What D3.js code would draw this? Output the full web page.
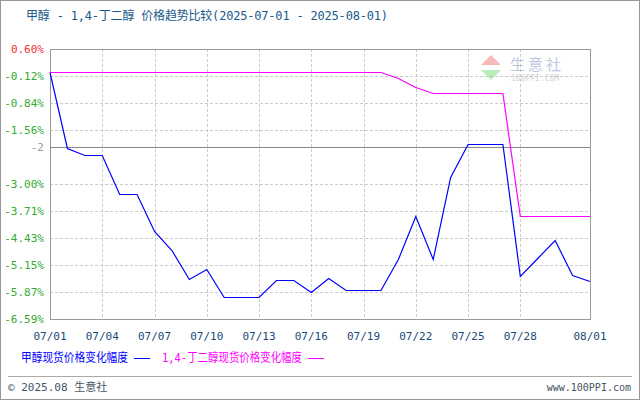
<!DOCTYPE html>
<html><head><meta charset="utf-8">
<script src="https://cdn.jsdelivr.net/npm/d3@7"></script>
<style>body{margin:0;background:#fff}svg{display:block}</style>
</head><body><svg id="c" width="640" height="400"></svg>
<script>
const dates = ["07/01","07/02","07/03","07/04","07/05","07/06","07/07","07/08","07/09","07/10","07/11","07/12","07/13","07/14","07/15","07/16","07/17","07/18","07/19","07/20","07/21","07/22","07/23","07/24","07/25","07/26","07/27","07/28","07/29","07/30","07/31","08/01"];
const methanol = [0,-2.04,-2.22,-2.22,-3.26,-3.26,-4.25,-4.75,-5.52,-5.26,-6.0,-6.0,-6.0,-5.55,-5.55,-5.87,-5.5,-5.82,-5.82,-5.82,-5.0,-3.85,-4.99,-2.81,-1.93,-1.93,-1.93,-5.45,-4.97,-4.49,-5.42,-5.58];
const bdo = [0,0,0,0,0,0,0,0,0,0,0,0,0,0,0,0,0,0,0,0,-0.18,-0.41,-0.57,-0.57,-0.57,-0.57,-0.57,-3.84,-3.84,-3.84,-3.84,-3.84];
const yTicks = [0.60,-0.12,-0.84,-1.56,-3.00,-3.71,-4.43,-5.15,-5.87,-6.59];
const xTickLabels = ["07/01","07/04","07/07","07/10","07/13","07/16","07/19","07/22","07/25","07/28","08/01"];
const refLine = -2;

const svg = d3.select("#c");
const F = "'DejaVu Sans Mono', monospace";
const FM = "'DejaVu Sans Mono', 'Noto Sans CJK SC', monospace";
const CJK="'Noto Sans CJK SC'";
svg.append("rect").attr("x",0.5).attr("y",0.5).attr("width",639).attr("height",399).attr("fill","#fff").attr("stroke","#999");
const L=50,R=590,T=49,B=319;
const x = d3.scaleLinear().domain([0,31]).range([L,R]);
const y = d3.scaleLinear().domain([-6.59,0.60]).range([B,T]);
const idx = d => dates.indexOf(d);

const g = svg.append("g");
g.selectAll(".hg").data(yTicks).join("line").attr("x1",L).attr("x2",R).attr("y1",d=>Math.round(y(d))+0.5).attr("y2",d=>Math.round(y(d))+0.5).attr("stroke","#ccc").attr("stroke-dasharray","3,2");
g.selectAll(".vg").data(xTickLabels).join("line").attr("x1",d=>Math.round(x(idx(d)))+0.5).attr("x2",d=>Math.round(x(idx(d)))+0.5).attr("y1",T).attr("y2",B).attr("stroke","#ccc").attr("stroke-dasharray","3,2");
g.append("rect").attr("x",L+0.5).attr("y",T+0.5).attr("width",R-L).attr("height",B-T).attr("fill","none").attr("stroke","#999");
g.append("line").attr("x1",L).attr("x2",R).attr("y1",Math.round(y(refLine))+0.5).attr("y2",Math.round(y(refLine))+0.5).attr("stroke","#888");
g.selectAll(".yl").data(yTicks).join("text").attr("x",44).attr("y",d=>y(d)+4).attr("text-anchor","end").attr("font-family",F).attr("font-size",11)
 .attr("fill",d=>d>0?"#e33":"#3a3").text(d=>d.toFixed(2)+"%");
g.append("text").attr("x",44).attr("y",y(refLine)+4).attr("text-anchor","end").attr("font-family",F).attr("font-size",11).attr("fill","#999").text("-2");
g.selectAll(".xl").data(xTickLabels).join("text").attr("x",d=>x(idx(d))).attr("y",340).attr("text-anchor","middle").attr("font-family",F).attr("font-size",11).attr("fill","#1a4a7a").text(d=>d);
const wm = svg.append("g").attr("opacity",0.5);
wm.append("path").attr("d","M481,65 L491,55 L501,65 Z").attr("fill","#e77");
wm.append("path").attr("d","M481,70 L491,80 L501,70 Z").attr("fill","#7d7");
wm.append("text").attr("x",510).attr("y",70).attr("font-family",CJK).attr("font-size",15).attr("fill","#8090c0").attr("letter-spacing",3).text("生意社");
wm.append("text").attr("x",511).attr("y",81).attr("font-family",F).attr("font-size",8).attr("fill","#aaa").text("100PPI.COM");
const line = d3.line().x((d,i)=>x(i)).y(d=>Math.round(y(d))+0.5);
g.append("path").datum(bdo).attr("d",line).attr("fill","none").attr("stroke","#f0f").attr("stroke-width",1.2);
g.append("path").datum(methanol).attr("d",line).attr("fill","none").attr("stroke","#00f").attr("stroke-width",1.2);
// title
svg.append("text").attr("x",26).attr("y",20).attr("font-family",FM).attr("font-size",12).attr("fill","#1a5a8a")
 .attr("textLength",362).attr("lengthAdjust","spacing").text("甲醇 - 1,4-丁二醇 价格趋势比较(2025-07-01 - 2025-08-01)");
// legend
svg.append("text").attr("x",21).attr("y",362).attr("font-family",FM).attr("font-size",12).attr("fill","#00f").attr("textLength",107).attr("lengthAdjust","spacingAndGlyphs").text("甲醇现货价格变化幅度");
svg.append("line").attr("x1",134).attr("x2",150).attr("y1",358.5).attr("y2",358.5).attr("stroke","#00f");
svg.append("text").attr("x",162).attr("y",362).attr("font-family",FM).attr("font-size",12).attr("fill","#f0f").attr("textLength",140).attr("lengthAdjust","spacingAndGlyphs").text("1,4-丁二醇现货价格变化幅度");
svg.append("line").attr("x1",308).attr("x2",324).attr("y1",358.5).attr("y2",358.5).attr("stroke","#f0f");
// footer
svg.append("line").attr("x1",8).attr("x2",632).attr("y1",376.5).attr("y2",376.5).attr("stroke","#aaa");
svg.append("text").attr("x",8).attr("y",391).attr("font-family",FM).attr("font-size",11).attr("fill","#456").text("© 2025.08 生意社");
svg.append("text").attr("x",631).attr("y",391).attr("text-anchor","end").attr("font-family",F).attr("font-size",10).attr("fill","#456").text("www.100PPI.com");
</script></body></html>
